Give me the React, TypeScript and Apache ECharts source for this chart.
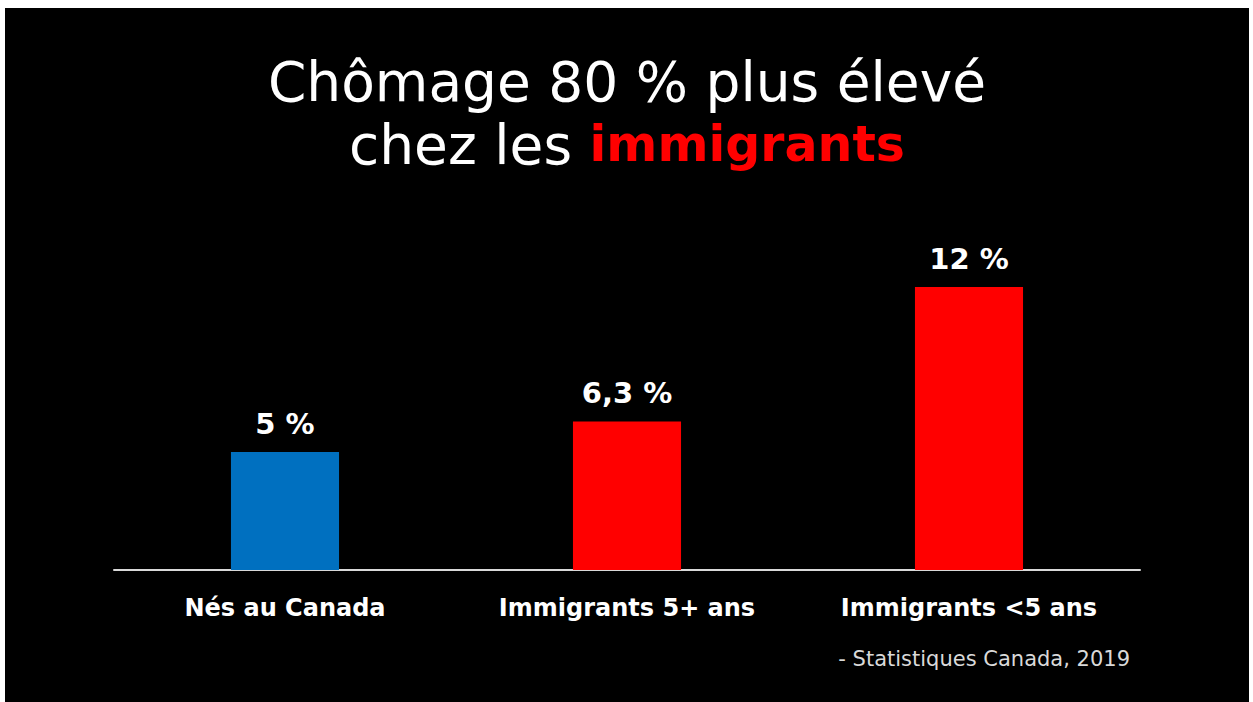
import React, { useEffect, useRef } from "react";
import * as echarts from "echarts";

const categories = ["Nés au Canada", "Immigrants 5+ ans", "Immigrants <5 ans"];
const values = [5, 6.3, 12];
const valueLabels = ["5 %", "6,3 %", "12 %"];
const barColors = ["#0070C0", "#FF0000", "#FF0000"];

const FONT = "'DejaVu Sans', sans-serif";

export default function App() {
  const ref = useRef<HTMLDivElement>(null);
  useEffect(() => {
    if (!ref.current) return;
    const chart = echarts.init(ref.current, null, { renderer: "svg" });
    chart.setOption({
      animation: false,
      backgroundColor: "#000000",
      title: {
        text: "{w|Chômage 80 % plus élevé}\n{w|chez les }{r|immigrants}",
        left: "center",
        top: 37,
        textStyle: {
          rich: {
            w: { color: "#ffffff", fontSize: 55, fontWeight: "normal", fontFamily: FONT, lineHeight: 63 },
            r: { color: "#FF0000", fontSize: 49, fontWeight: "bold", fontFamily: FONT, lineHeight: 63 },
          },
        },
      },
      graphic: [
        {
          type: "text",
          right: 119,
          top: 640,
          style: {
            text: "- Statistiques Canada, 2019",
            fill: "#d9d9d9",
            font: `21px ${FONT}`,
          },
        },
      ],
      grid: { left: 109, right: 109, top: 279, bottom: 132 },
      xAxis: {
        type: "category",
        data: categories,
        axisLine: { lineStyle: { color: "#d9d9d9", width: 2 } },
        axisTick: { show: false },
        axisLabel: {
          color: "#ffffff",
          fontSize: 24,
          fontWeight: "bold",
          fontFamily: FONT,
          margin: 26,
        },
      },
      yAxis: {
        type: "value",
        min: 0,
        max: 12,
        show: false,
        splitLine: { show: false },
      },
      series: [
        {
          type: "bar",
          barWidth: "31.6%",
          data: values.map((v, i) => ({ value: v, itemStyle: { color: barColors[i] } })),
          label: {
            show: true,
            position: "top",
            distance: 14,
            color: "#ffffff",
            fontSize: 29,
            fontWeight: "bold",
            fontFamily: FONT,
            formatter: (p: any) => valueLabels[p.dataIndex],
          },
        },
      ],
    });
    return () => chart.dispose();
  }, []);
  return (
    <div
      ref={ref}
      style={{ position: "absolute", left: 5, top: 8, width: 1244, height: 694 }}
    />
  );
}
